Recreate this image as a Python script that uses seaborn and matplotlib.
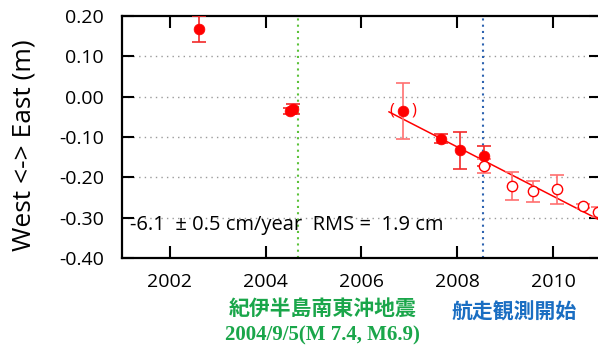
import matplotlib
matplotlib.use("Agg")
import matplotlib.pyplot as plt
import seaborn as sns
import numpy as np
import pandas as pd

# Campaign GPS-A positions, east component (m)
years_full = [2002.61, 2004.51, 2004.58, 2007.65, 2008.06, 2008.56]
east_full = [0.167, -0.036, -0.030, -0.104, -0.133, -0.147]
err_full = [0.032, 0.008, 0.013, 0.011, 0.046, 0.025]

# Questionable solution, shown in parentheses
years_paren = [2006.87]
east_paren = [-0.035]
err_paren = [0.069]

# Positions from underway (moving-vessel) observations
years_open = [2008.56, 2009.14, 2009.58, 2010.09, 2010.63, 2010.93]
east_open = [-0.172, -0.221, -0.234, -0.230, -0.271, -0.286]
err_open = [0.018, 0.034, 0.026, 0.037, 0.005, 0.012]

# Linear trend after the earthquake
rate_cm = -6.1
rate_err_cm = 0.5
rms_cm = 1.9
fit_start = 2006.57
fit_end = 2011.0
fit_start_value = -0.0375

quake_year = 2004.68
underway_start = 2008.53

x_ticks = [2002, 2004, 2006, 2008, 2010]
y_ticks = [-0.40, -0.30, -0.20, -0.10, 0.00, 0.10, 0.20]

sns.set_style("ticks")
plt.rcParams["font.family"] = ["Open Sans", "DejaVu Sans"]
plt.rcParams["text.color"] = "black"
plt.rcParams["axes.labelcolor"] = "black"
plt.rcParams["xtick.color"] = "black"
plt.rcParams["ytick.color"] = "black"

fig = plt.figure(figsize=(5.98, 3.45), dpi=100)
ax = fig.add_axes([122 / 598, 1 - 258 / 345, 479 / 598, 242 / 345])

red = "#ff0000"
bar_red = "#f22a2a"
err_red = "#ff7070"

# grid lines
for v in y_ticks[1:-1]:
    ax.axhline(v, color="#9a9a9a", lw=1.0, ls=(0, (1, 3)), zorder=0)

# event markers
ax.axvline(quake_year, color="#5cc23a", lw=1.5, ls=(0, (1, 2)), zorder=1)
ax.axvline(underway_start, color="#2c62b0", lw=1.5, ls=(0, (1, 2)), zorder=1)

# trend line
fit_df = pd.DataFrame({
    "year": [fit_start, fit_end],
    "east": [fit_start_value,
             fit_start_value + rate_cm / 100 * (fit_end - fit_start)],
})
sns.lineplot(data=fit_df, x="year", y="east", color=red, lw=1.1, ax=ax, zorder=2)

# error bars
for xs, ys, es, c in [(years_full, east_full, err_full, bar_red),
                      (years_paren, east_paren, err_paren, err_red),
                      (years_open, east_open, err_open, err_red)]:
    ax.errorbar(xs, ys, yerr=es, fmt="none", ecolor=c, elinewidth=1.2,
                capsize=5, capthick=1.2, zorder=3)

full_df = pd.DataFrame({"year": years_full + years_paren,
                        "east": east_full + east_paren})
open_df = pd.DataFrame({"year": years_open, "east": east_open})
sns.scatterplot(data=full_df, x="year", y="east", color=red, s=60,
                edgecolor=red, linewidth=0.5, ax=ax, zorder=4)
sns.scatterplot(data=open_df, x="year", y="east", facecolor="white", s=55,
                edgecolor=red, linewidth=1.0, ax=ax, zorder=4)

for x, y in zip(years_paren, east_paren):
    ax.annotate("(", (x, y), xytext=(-8, 0), textcoords="offset points",
                ha="center", va="center", color=red, fontsize=12, zorder=5)
    ax.annotate(")", (x, y), xytext=(8, 0), textcoords="offset points",
                ha="center", va="center", color=red, fontsize=12, zorder=5)

ax.set_xlim(2001.0, 2011.0)
ax.set_ylim(-0.40, 0.20)
ax.set_xticks(x_ticks)
ax.set_xticklabels([str(t) for t in x_ticks])
ax.set_yticks(y_ticks)
ax.set_yticklabels([f"{t:.2f}" for t in y_ticks])
ax.tick_params(axis="both", direction="in", length=8.5, width=1.5,
               labelsize=14, colors="black", top=True, right=True)
ax.tick_params(axis="x", pad=11)
ax.tick_params(axis="y", pad=13)
ax.set_xlabel("")
ax.set_ylabel("")
for side in ["left", "right", "top", "bottom"]:
    ax.spines[side].set_visible(True)
    ax.spines[side].set_linewidth(1.6)
    ax.spines[side].set_color("black")

ax.text(0.017, 0.138,
        f"{rate_cm:.1f}  \u00b1 {rate_err_cm:.1f} cm/year  RMS =  {rms_cm:.1f} cm",
        transform=ax.transAxes, fontsize=14.5, ha="left", va="center",
        color="black")

fig.text(24 / 598, 1 - 145 / 345, "West <-> East (m)", rotation=90,
         ha="center", va="center", fontsize=19, color="black")

green = "#1aa64a"
blue = "#1a6ec2"
fig.text(323 / 598, 1 - 308 / 345, "紀伊半島南東沖地震", ha="center", va="center",
         fontsize=15, color=green, fontweight="bold",
         family=["Noto Sans CJK JP", "DejaVu Sans"])
fig.text(322 / 598, 1 - 335 / 345, "2004/9/5(M 7.4, M6.9)", ha="center",
         va="center", fontsize=15, color=green, fontweight="bold",
         family=["Liberation Serif", "DejaVu Serif"])
fig.text(514 / 598, 1 - 312 / 345, "航走観測開始", ha="center", va="center",
         fontsize=15, color=blue, fontweight="bold",
         family=["Noto Sans CJK JP", "DejaVu Sans"])

fig.savefig("out.png", dpi=100)
